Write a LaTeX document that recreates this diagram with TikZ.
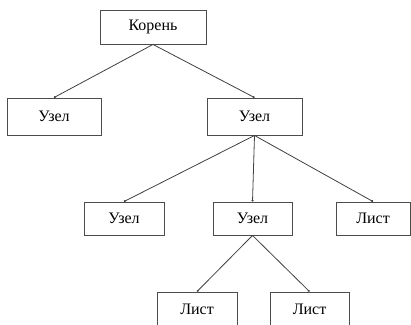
\documentclass[tikz,border=0pt]{standalone}
\usepackage{fontspec}
\setmainfont{Liberation Serif}
\usetikzlibrary{arrows.meta}

\begin{document}
\begin{tikzpicture}[x=1pt,y=-1pt,
		box/.style={draw=black!70, line width=0.9pt, rectangle, inner sep=0pt,
			font=\fontsize{16}{18}\selectfont},
		edge/.style={draw=black!75, line width=0.8pt, -{Circle[length=2pt]}}]
			\useasboundingbox (0,0) rectangle (411,324);
			\clip (0,0) rectangle (411,324);
			% levels
			\node [box, minimum width=106, minimum height=34] (root) at (153,27) {Корень};
			\node [box, minimum width=94, minimum height=37] (n1) at (54,116.5) {Узел};
			\node [box, minimum width=95, minimum height=37] (n2) at (254.5,116.5) {Узел};
			\node [box, minimum width=80, minimum height=33] (n3) at (124,218.5) {Узел};
			\node [box, minimum width=79, minimum height=33] (n4) at (252.5,218.5) {Узел};
			\node [box, minimum width=74, minimum height=33] (leaf1) at (373,218.5) {Лист};
			\node [box, minimum width=80, minimum height=34] (leaf2) at (197,309) {Лист};
			\node [box, minimum width=79, minimum height=34] (leaf3) at (309.5,309) {Лист};
			% edges
			\draw [edge] (root.south) -- (n1.north);
			\draw [edge] (root.south) -- (n2.north);
			\draw [edge] (n2.south) -- (n3.north);
			\draw [edge] (n2.south) -- (n4.north);
			\draw [edge] (n2.south) -- (leaf1.north);
			\draw [edge] (n4.south) -- (leaf2.north);
			\draw [edge] (n4.south) -- (leaf3.north);
		\end{tikzpicture}
\end{document}
